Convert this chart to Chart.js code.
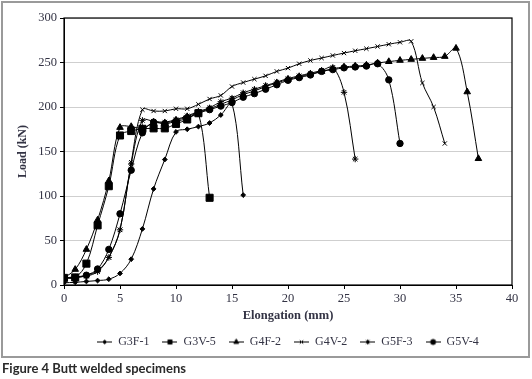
<!DOCTYPE html>
<html>
<head>
<meta charset="utf-8">
<script src="https://cdn.jsdelivr.net/npm/chart.js@4.4.1/dist/chart.umd.min.js"></script>
<style>
  html, body { margin: 0; padding: 0; background: #fff; }
  #wrap { position: relative; width: 532px; height: 379px; }
  #frame { position: absolute; left: 1px; top: 1px; width: 525px; height: 353px; border: 2px solid #9a9a9a; }
  #cv { position: absolute; left: 0; top: 0; }
  #caption { position: absolute; left: 2px; top: 360px; font-family: "Lato", "Open Sans", sans-serif; font-weight: 700; font-size: 13px; color: #2a2a2a; white-space: nowrap; }
</style>
</head>
<body>
<div id="wrap">
  <div id="frame"></div>
  <canvas id="cv" width="532" height="361"></canvas>
  <div id="caption">Figure 4 Butt welded specimens</div>
</div>
<script>
// Elongation (mm) positions: each series is sampled at 0, 1, 2, ... mm
const elongation = [0,1,2,3,4,5,6,7,8,9,10,11,12,13,14,15,16,17,18,19,20,21,22,23,24,25,26,27,28,29,30,31,32,33,34,35,36,37];
const seriesNames = ["G3F-1", "G3V-5", "G4F-2", "G4V-2", "G5F-3", "G5V-4"];

// Load (kN)
const g3f1 = [2.5, 3, 4, 5, 6.5, 13, 29, 63, 108, 141, 172, 175, 178, 182, 191, 204, 101];
const g3v5 = [8, 8.5, 24, 67, 111, 168, 173, 175.5, 176, 176, 181, 186, 193, 98];
const g4f2 = [8, 17.5, 40, 73, 117, 177, 178, 176, 182, 182, 185, 189, 194, 198, 203, 208, 214, 218, 223, 227, 231, 234, 237, 240, 243, 245, 246, 247, 249.4, 251, 252.4, 253.5, 254.6, 255.6, 256.8, 266, 217, 142];
const g4v2 = [8, 9, 11, 16, 31, 62, 138, 197, 195.5, 195.5, 198, 198, 203, 209, 213, 223, 227.5, 231.3, 235, 240, 243.7, 248.6, 252.3, 255, 257.9, 260.6, 263.2, 265.5, 268, 270.5, 272.7, 273.8, 227, 200, 159];
const g5f3 = [8, 9, 10, 15, 31, 62, 136, 185, 184, 183, 186, 190, 195, 199, 206, 210, 216, 220, 224, 228, 232, 235, 238, 241, 244.5, 216.5, 141.5];
const g5v4 = [8, 8, 11, 18, 40, 80, 129, 171, 183, 181, 184, 187, 193, 197, 201, 205, 211, 215, 220, 225, 230, 233, 236, 240, 242, 244, 245, 246, 248.6, 230.5, 159];

const xTicks = [0, 5, 10, 15, 20, 25, 30, 35, 40];
const yTicks = [0, 50, 100, 150, 200, 250, 300];

const allValues = [g3f1, g3v5, g4f2, g4v2, g5f3, g5v4];
const styles = [
  { pointStyle: 'rectRot', radius: 2.4 },
  { pointStyle: 'rect', radius: 5 },
  { pointStyle: 'triangle', radius: 3.8 },
  { pointStyle: 'crossRot', radius: 3 },
  { pointStyle: 'star', radius: 3.2 },
  { pointStyle: 'circle', radius: 3.2 }
];

function legendIcon(st) {
  const c = document.createElement('canvas');
  c.width = 15; c.height = 11;
  const ctx = c.getContext('2d');
  ctx.strokeStyle = '#000'; ctx.fillStyle = '#000'; ctx.lineWidth = 1;
  ctx.beginPath(); ctx.moveTo(0, 5.5); ctx.lineTo(15, 5.5); ctx.stroke();
  Chart.helpers.drawPoint(ctx, { pointStyle: st.pointStyle, radius: Math.min(st.radius, 3.6) * 0.8, borderWidth: 1, rotation: 0 }, 7.5, 5.5);
  return c;
}

const datasets = allValues.map((vals, i) => ({
  label: seriesNames[i],
  data: vals.map((v, k) => ({ x: elongation[k], y: v })),
  borderColor: '#000',
  backgroundColor: '#000',
  borderWidth: 1,
  pointStyle: styles[i].pointStyle,
  pointRadius: styles[i].radius,
  pointBorderWidth: 1,
  pointBackgroundColor: '#000',
  pointBorderColor: '#000',
  tension: 0.35,
  fill: false
}));

const frameBox = {
  id: 'frameBox',
  afterDatasetsDraw(chart) {
    const a = chart.chartArea, ctx = chart.ctx;
    ctx.save();
    ctx.strokeStyle = '#000';
    ctx.lineWidth = 1.2;
    ctx.strokeRect(a.left, a.top, a.right - a.left, a.bottom - a.top);
    ctx.restore();
  }
};

const textColor = '#333344';
new Chart(document.getElementById('cv'), {
  type: 'line',
  data: { datasets },
  plugins: [frameBox],
  options: {
    responsive: false,
    animation: false,
    layout: { padding: { left: 16, right: 20, top: 18, bottom: 3 } },
    plugins: {
      tooltip: { enabled: false },
      legend: {
        position: 'bottom',
        fullSize: false,
        labels: {
          usePointStyle: true,
          pointStyleWidth: 15,
          boxHeight: 11,
          padding: 13,
          color: textColor,
          font: { family: '"Liberation Serif", "DejaVu Serif", serif', size: 12 },
          generateLabels(chart) {
            return chart.data.datasets.map((ds, i) => ({
              text: ds.label,
              pointStyle: legendIcon(styles[i]),
              fillStyle: '#000', strokeStyle: '#000', lineWidth: 1,
              fontColor: textColor,
              hidden: false, datasetIndex: i
            }));
          }
        }
      }
    },
    scales: {
      x: {
        type: 'linear',
        min: 0, max: 40,
        afterBuildTicks(scale) { scale.ticks = xTicks.map(v => ({ value: v })); },
        afterFit(scale) { scale.height = 38; },
        grid: { display: true, drawOnChartArea: false, tickLength: 4, tickColor: '#000' },
        border: { color: '#000', width: 1 },
        ticks: { color: textColor, padding: 2, maxRotation: 0, font: { family: '"Liberation Serif", "DejaVu Serif", serif', size: 12.5 } },
        title: { display: true, text: 'Elongation (mm)', color: textColor, padding: { top: 2, bottom: 0 }, font: { family: '"Liberation Serif", "DejaVu Serif", serif', size: 12.5, weight: 'bold' } }
      },
      y: {
        min: 0, max: 300,
        afterBuildTicks(scale) { scale.ticks = yTicks.map(v => ({ value: v })); },
        afterFit(scale) { scale.width = 48; },
        grid: { color: '#cfcfcf', lineWidth: 1, tickLength: 4, tickColor: '#000' },
        border: { color: '#000', width: 1 },
        ticks: { color: textColor, padding: 3, font: { family: '"Liberation Serif", "DejaVu Serif", serif', size: 12.5 } },
        title: { display: true, text: 'Load (kN)', color: textColor, padding: { top: 0, bottom: 4 }, font: { family: '"Liberation Serif", "DejaVu Serif", serif', size: 12, weight: 'bold' } }
      }
    }
  }
});
</script>
</body>
</html>
